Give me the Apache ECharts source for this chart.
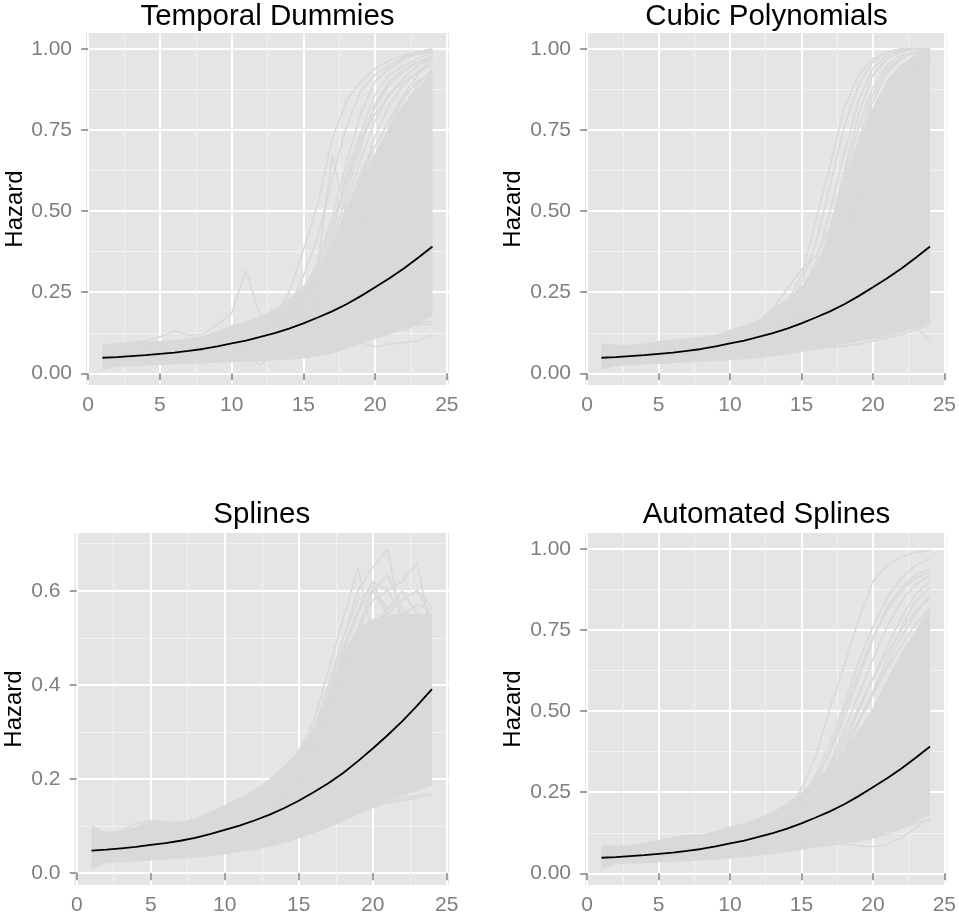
<head>
    <meta charset="utf-8">
    <title>Hazard</title>
    <script src="https://cdn.jsdelivr.net/npm/echarts@6/dist/echarts.min.js"></script>
</head>

<body style="margin:0">
    <div id="main" style="width: 959px; height: 922px;"></div>

    <script type="text/javascript">

        // time points and the true hazard (black line)
        const time = [1, 2, 3, 4, 5, 6, 7, 8, 9, 10, 11, 12, 13, 14, 15, 16, 17, 18, 19, 20, 21, 22, 23, 24]
        const truth = [0.048, 0.050, 0.053, 0.056, 0.060, 0.064, 0.069, 0.075, 0.083, 0.092, 0.101, 0.112, 0.124, 0.138, 0.154, 0.172, 0.191, 0.213, 0.238, 0.265, 0.293, 0.323, 0.356, 0.391]

        const xTicks = [0, 5, 10, 15, 20, 25]
        const xMinor = [2.5, 7.5, 12.5, 17.5, 22.5]
        const yTicks = [0, 0.25, 0.5, 0.75, 1]
        const yMinor = [0.125, 0.375, 0.625, 0.875]
        const ySplineTicks = [0, 0.2, 0.4, 0.6]
        const ySplineMinor = [0.1, 0.3, 0.5, 0.7]

        // dense part of the grey simulation lines (lower / upper edge)
        const dummiesLow = [0.010, 0.020, 0.022, 0.024, 0.025, 0.027, 0.029, 0.031, 0.032, 0.034, 0.036, 0.038, 0.040, 0.042, 0.046, 0.052, 0.06, 0.075, 0.09, 0.105, 0.12, 0.135, 0.155, 0.175]
        const dummiesHigh = [0.09, 0.093, 0.095, 0.098, 0.1, 0.103, 0.108, 0.115, 0.13, 0.148, 0.16, 0.175, 0.2, 0.23, 0.27, 0.32, 0.4, 0.5, 0.6, 0.68, 0.76, 0.83, 0.88, 0.93]
        const cubicLow = [0.010, 0.022, 0.025, 0.027, 0.029, 0.031, 0.033, 0.035, 0.037, 0.04, 0.043, 0.047, 0.052, 0.058, 0.066, 0.074, 0.082, 0.09, 0.098, 0.105, 0.115, 0.125, 0.14, 0.155]
        const cubicHigh = [0.093, 0.088, 0.088, 0.092, 0.1, 0.104, 0.108, 0.113, 0.12, 0.135, 0.148, 0.165, 0.2, 0.23, 0.27, 0.33, 0.44, 0.6, 0.72, 0.82, 0.9, 0.95, 0.985, 1.0]
        const splinesLow = [0.008, 0.022, 0.024, 0.025, 0.027, 0.029, 0.031, 0.033, 0.036, 0.04, 0.045, 0.05, 0.056, 0.064, 0.074, 0.085, 0.097, 0.11, 0.125, 0.14, 0.155, 0.165, 0.175, 0.185]
        const splinesHigh = [0.103, 0.085, 0.09, 0.1, 0.11, 0.108, 0.11, 0.117, 0.13, 0.145, 0.16, 0.178, 0.2, 0.227, 0.26, 0.31, 0.38, 0.47, 0.52, 0.54, 0.55, 0.55, 0.55, 0.55]
        const autoLow = [0.012, 0.028, 0.03, 0.031, 0.033, 0.035, 0.037, 0.039, 0.042, 0.046, 0.05, 0.055, 0.06, 0.066, 0.073, 0.08, 0.085, 0.09, 0.1, 0.11, 0.125, 0.14, 0.16, 0.18]
        const autoHigh = [0.087, 0.085, 0.088, 0.095, 0.103, 0.11, 0.118, 0.12, 0.13, 0.144, 0.155, 0.17, 0.19, 0.216, 0.25, 0.29, 0.33, 0.38, 0.44, 0.51, 0.6, 0.68, 0.75, 0.82]

        // single grey lines that stand out of the dense part
        const dummiesLines = [
            [0.085, 0.092, 0.095, 0.1, 0.112, 0.13, 0.118, 0.12, 0.15, 0.185, 0.317, 0.175, 0.165, 0.2, 0.26, 0.34, 0.46, 0.6, 0.72, 0.8, 0.86, 0.9, 0.93, 0.95],
            [0.06, 0.065, 0.07, 0.072, 0.078, 0.082, 0.088, 0.095, 0.1, 0.11, 0.12, 0.13, 0.15, 0.19, 0.25, 0.33, 0.669, 0.49, 0.6, 0.7, 0.78, 0.85, 0.9, 0.93],
            [0.04, 0.035, 0.036, 0.04, 0.042, 0.045, 0.056, 0.026, 0.05, 0.06, 0.055, 0.026, 0.056, 0.065, 0.077, 0.085, 0.1, 0.11, 0.095, 0.082, 0.09, 0.095, 0.1, 0.118],
            [0.07, 0.072, 0.075, 0.078, 0.082, 0.086, 0.09, 0.095, 0.1, 0.108, 0.118, 0.13, 0.17, 0.25, 0.38, 0.52, 0.72, 0.84, 0.9, 0.94, 0.965, 0.98, 0.99, 1.0],
            [0.065, 0.068, 0.07, 0.074, 0.078, 0.082, 0.087, 0.092, 0.098, 0.105, 0.113, 0.125, 0.15, 0.2, 0.3, 0.42, 0.6, 0.76, 0.87, 0.92, 0.95, 0.975, 0.99, 0.995],
            [0.055, 0.058, 0.062, 0.066, 0.07, 0.074, 0.079, 0.085, 0.092, 0.1, 0.11, 0.122, 0.14, 0.18, 0.25, 0.34, 0.48, 0.65, 0.8, 0.9, 0.94, 0.97, 0.985, 0.99],
            [0.05, 0.053, 0.056, 0.06, 0.064, 0.068, 0.073, 0.079, 0.086, 0.094, 0.103, 0.115, 0.13, 0.17, 0.22, 0.3, 0.4, 0.55, 0.7, 0.83, 0.9, 0.94, 0.96, 0.97],
            [0.05, 0.052, 0.055, 0.058, 0.062, 0.066, 0.071, 0.077, 0.084, 0.092, 0.1, 0.11, 0.125, 0.15, 0.19, 0.25, 0.33, 0.45, 0.6, 0.73, 0.83, 0.89, 0.93, 0.96],
            [0.045, 0.048, 0.051, 0.055, 0.059, 0.063, 0.068, 0.074, 0.081, 0.089, 0.098, 0.108, 0.12, 0.14, 0.17, 0.22, 0.3, 0.4, 0.5, 0.64, 0.76, 0.85, 0.9, 0.93],
            [0.06, 0.066, 0.064, 0.07, 0.075, 0.078, 0.085, 0.09, 0.096, 0.1, 0.11, 0.12, 0.14, 0.17, 0.21, 0.27, 0.36, 0.5, 0.62, 0.7, 0.78, 0.86, 0.92, 0.98],
            [0.03, 0.032, 0.034, 0.036, 0.038, 0.041, 0.044, 0.047, 0.05, 0.054, 0.058, 0.062, 0.067, 0.072, 0.078, 0.09, 0.1, 0.11, 0.13, 0.14, 0.15, 0.13, 0.155, 0.16],
            [0.035, 0.037, 0.04, 0.042, 0.045, 0.048, 0.051, 0.055, 0.059, 0.063, 0.068, 0.073, 0.079, 0.086, 0.094, 0.1, 0.105, 0.11, 0.115, 0.12, 0.13, 0.14, 0.15, 0.15],
            [0.05, 0.052, 0.055, 0.058, 0.061, 0.065, 0.07, 0.075, 0.081, 0.088, 0.096, 0.105, 0.115, 0.13, 0.15, 0.18, 0.24, 0.33, 0.45, 0.55, 0.68, 0.78, 0.86, 0.92],
            [0.06, 0.063, 0.066, 0.07, 0.074, 0.078, 0.083, 0.089, 0.096, 0.104, 0.113, 0.124, 0.14, 0.17, 0.23, 0.32, 0.44, 0.58, 0.72, 0.82, 0.89, 0.93, 0.96, 0.98],
            [0.055, 0.057, 0.06, 0.063, 0.067, 0.071, 0.076, 0.082, 0.089, 0.097, 0.106, 0.117, 0.13, 0.155, 0.2, 0.28, 0.38, 0.52, 0.66, 0.78, 0.86, 0.91, 0.95, 0.97],
            [0.05, 0.052, 0.054, 0.057, 0.06, 0.064, 0.068, 0.073, 0.079, 0.086, 0.094, 0.103, 0.115, 0.135, 0.165, 0.21, 0.27, 0.36, 0.47, 0.6, 0.72, 0.82, 0.89, 0.94],
            [0.07, 0.068, 0.074, 0.08, 0.076, 0.085, 0.09, 0.1, 0.098, 0.11, 0.12, 0.135, 0.15, 0.18, 0.22, 0.3, 0.42, 0.62, 0.74, 0.86, 0.92, 0.95, 0.97, 0.99],
            [0.04, 0.043, 0.046, 0.05, 0.054, 0.058, 0.063, 0.068, 0.074, 0.08, 0.087, 0.095, 0.104, 0.115, 0.13, 0.16, 0.2, 0.26, 0.34, 0.44, 0.55, 0.66, 0.76, 0.85]
        ]
        const cubicLines = [
            [0.06, 0.062, 0.065, 0.068, 0.072, 0.076, 0.081, 0.087, 0.094, 0.102, 0.112, 0.13, 0.17, 0.22, 0.3, 0.47, 0.64, 0.82, 0.92, 0.97, 0.99, 1.0, 1.0, 1.0],
            [0.055, 0.058, 0.061, 0.065, 0.069, 0.074, 0.079, 0.085, 0.092, 0.1, 0.11, 0.125, 0.15, 0.2, 0.28, 0.4, 0.58, 0.76, 0.89, 0.96, 0.99, 1.0, 1.0, 1.0],
            [0.05, 0.053, 0.056, 0.06, 0.064, 0.069, 0.074, 0.08, 0.087, 0.095, 0.104, 0.117, 0.14, 0.18, 0.25, 0.34, 0.5, 0.68, 0.84, 0.94, 0.98, 0.995, 1.0, 1.0],
            [0.07, 0.072, 0.075, 0.079, 0.083, 0.088, 0.094, 0.101, 0.11, 0.12, 0.135, 0.16, 0.2, 0.26, 0.32, 0.36, 0.45, 0.6, 0.76, 0.88, 0.95, 0.98, 0.99, 1.0],
            [0.045, 0.048, 0.051, 0.055, 0.059, 0.063, 0.068, 0.074, 0.081, 0.089, 0.098, 0.11, 0.13, 0.16, 0.22, 0.3, 0.4, 0.55, 0.72, 0.86, 0.94, 0.97, 0.99, 1.0],
            [0.045, 0.047, 0.05, 0.053, 0.057, 0.061, 0.066, 0.072, 0.079, 0.087, 0.096, 0.107, 0.12, 0.15, 0.2, 0.27, 0.36, 0.48, 0.64, 0.8, 0.9, 0.95, 0.98, 0.99],
            [0.04, 0.043, 0.046, 0.05, 0.054, 0.058, 0.063, 0.069, 0.076, 0.084, 0.093, 0.104, 0.117, 0.14, 0.18, 0.24, 0.32, 0.42, 0.56, 0.7, 0.82, 0.9, 0.95, 0.97],
            [0.03, 0.032, 0.034, 0.036, 0.039, 0.042, 0.045, 0.049, 0.053, 0.058, 0.063, 0.068, 0.074, 0.08, 0.086, 0.092, 0.096, 0.1, 0.115, 0.13, 0.145, 0.155, 0.14, 0.105],
            [0.028, 0.03, 0.032, 0.034, 0.036, 0.039, 0.042, 0.045, 0.049, 0.053, 0.057, 0.061, 0.065, 0.069, 0.073, 0.077, 0.08, 0.085, 0.09, 0.1, 0.11, 0.12, 0.135, 0.15],
            [0.05, 0.052, 0.055, 0.058, 0.062, 0.066, 0.071, 0.077, 0.084, 0.092, 0.1, 0.11, 0.125, 0.145, 0.17, 0.21, 0.27, 0.36, 0.48, 0.62, 0.76, 0.87, 0.94, 0.98],
            [0.055, 0.058, 0.061, 0.064, 0.068, 0.072, 0.077, 0.083, 0.09, 0.098, 0.107, 0.118, 0.135, 0.165, 0.22, 0.31, 0.44, 0.62, 0.8, 0.92, 0.97, 0.99, 1.0, 1.0],
            [0.05, 0.052, 0.055, 0.058, 0.062, 0.066, 0.071, 0.077, 0.084, 0.092, 0.101, 0.112, 0.125, 0.15, 0.19, 0.26, 0.36, 0.5, 0.68, 0.84, 0.93, 0.97, 0.99, 1.0],
            [0.045, 0.047, 0.05, 0.053, 0.056, 0.06, 0.064, 0.069, 0.075, 0.082, 0.09, 0.1, 0.112, 0.13, 0.16, 0.21, 0.29, 0.4, 0.54, 0.7, 0.83, 0.92, 0.97, 0.99],
            [0.04, 0.042, 0.045, 0.048, 0.051, 0.055, 0.059, 0.064, 0.07, 0.077, 0.085, 0.094, 0.105, 0.12, 0.145, 0.18, 0.24, 0.33, 0.45, 0.6, 0.74, 0.85, 0.93, 0.97]
        ]
        const splinesLines = [
            [0.06, 0.062, 0.066, 0.07, 0.074, 0.078, 0.082, 0.087, 0.093, 0.1, 0.11, 0.125, 0.15, 0.19, 0.25, 0.3, 0.4, 0.5, 0.6, 0.65, 0.688, 0.52, 0.5, 0.48],
            [0.055, 0.058, 0.062, 0.066, 0.07, 0.074, 0.078, 0.083, 0.09, 0.098, 0.108, 0.122, 0.145, 0.19, 0.26, 0.32, 0.43, 0.54, 0.648, 0.5, 0.48, 0.47, 0.47, 0.46],
            [0.05, 0.053, 0.057, 0.06, 0.064, 0.068, 0.072, 0.077, 0.083, 0.09, 0.1, 0.113, 0.13, 0.17, 0.22, 0.29, 0.36, 0.45, 0.52, 0.58, 0.6, 0.62, 0.66, 0.5],
            [0.05, 0.052, 0.055, 0.058, 0.062, 0.066, 0.07, 0.075, 0.081, 0.088, 0.097, 0.11, 0.13, 0.17, 0.22, 0.28, 0.37, 0.47, 0.55, 0.62, 0.54, 0.52, 0.52, 0.52],
            [0.045, 0.048, 0.051, 0.055, 0.059, 0.063, 0.068, 0.073, 0.079, 0.086, 0.095, 0.107, 0.125, 0.16, 0.2, 0.27, 0.34, 0.44, 0.5, 0.6, 0.634, 0.56, 0.54, 0.55],
            [0.045, 0.047, 0.05, 0.053, 0.057, 0.061, 0.066, 0.071, 0.077, 0.084, 0.092, 0.103, 0.118, 0.15, 0.19, 0.24, 0.3, 0.4, 0.47, 0.53, 0.56, 0.58, 0.6, 0.565],
            [0.1, 0.085, 0.09, 0.105, 0.112, 0.11, 0.105, 0.11, 0.12, 0.13, 0.14, 0.15, 0.16, 0.175, 0.19, 0.2, 0.21, 0.225, 0.24, 0.26, 0.28, 0.3, 0.32, 0.34],
            [0.03, 0.032, 0.034, 0.036, 0.038, 0.041, 0.044, 0.047, 0.05, 0.054, 0.058, 0.063, 0.068, 0.075, 0.083, 0.092, 0.1, 0.12, 0.13, 0.14, 0.15, 0.155, 0.16, 0.165],
            [0.035, 0.037, 0.039, 0.042, 0.045, 0.048, 0.051, 0.055, 0.06, 0.065, 0.07, 0.076, 0.083, 0.09, 0.098, 0.106, 0.115, 0.13, 0.138, 0.145, 0.152, 0.16, 0.165, 0.17],
            [0.05, 0.052, 0.055, 0.058, 0.062, 0.066, 0.07, 0.075, 0.081, 0.088, 0.096, 0.107, 0.122, 0.15, 0.2, 0.27, 0.38, 0.5, 0.58, 0.6, 0.55, 0.58, 0.6, 0.54],
            [0.045, 0.048, 0.051, 0.054, 0.058, 0.062, 0.066, 0.071, 0.077, 0.084, 0.092, 0.102, 0.115, 0.14, 0.18, 0.25, 0.33, 0.43, 0.52, 0.61, 0.56, 0.6, 0.55, 0.53],
            [0.05, 0.053, 0.056, 0.059, 0.063, 0.067, 0.071, 0.076, 0.082, 0.089, 0.097, 0.108, 0.123, 0.155, 0.21, 0.28, 0.37, 0.48, 0.56, 0.62, 0.6, 0.55, 0.57, 0.56]
        ]
        const autoLines = [
            [0.06, 0.062, 0.065, 0.068, 0.072, 0.076, 0.081, 0.087, 0.094, 0.102, 0.112, 0.125, 0.15, 0.19, 0.26, 0.36, 0.51, 0.64, 0.78, 0.9, 0.95, 0.975, 0.99, 0.995],
            [0.055, 0.058, 0.061, 0.065, 0.069, 0.074, 0.079, 0.085, 0.092, 0.1, 0.11, 0.122, 0.14, 0.17, 0.22, 0.3, 0.4, 0.52, 0.65, 0.76, 0.85, 0.91, 0.95, 0.97],
            [0.05, 0.053, 0.056, 0.06, 0.064, 0.069, 0.074, 0.08, 0.087, 0.095, 0.104, 0.115, 0.13, 0.16, 0.21, 0.29, 0.37, 0.48, 0.6, 0.72, 0.82, 0.88, 0.92, 0.94],
            [0.05, 0.052, 0.055, 0.058, 0.062, 0.066, 0.071, 0.077, 0.084, 0.092, 0.1, 0.11, 0.125, 0.15, 0.19, 0.25, 0.34, 0.44, 0.55, 0.66, 0.76, 0.84, 0.89, 0.92],
            [0.045, 0.048, 0.051, 0.055, 0.059, 0.063, 0.068, 0.074, 0.081, 0.089, 0.098, 0.108, 0.12, 0.14, 0.18, 0.24, 0.33, 0.42, 0.51, 0.6, 0.7, 0.79, 0.86, 0.9],
            [0.045, 0.047, 0.05, 0.053, 0.057, 0.061, 0.066, 0.072, 0.079, 0.087, 0.096, 0.106, 0.118, 0.135, 0.16, 0.21, 0.28, 0.38, 0.46, 0.55, 0.64, 0.73, 0.8, 0.86],
            [0.03, 0.032, 0.034, 0.036, 0.038, 0.041, 0.044, 0.047, 0.05, 0.054, 0.058, 0.063, 0.068, 0.074, 0.08, 0.09, 0.1, 0.09, 0.085, 0.082, 0.09, 0.11, 0.14, 0.17],
            [0.035, 0.037, 0.039, 0.041, 0.044, 0.047, 0.05, 0.054, 0.058, 0.063, 0.068, 0.074, 0.08, 0.087, 0.094, 0.1, 0.1, 0.1, 0.1, 0.11, 0.12, 0.14, 0.155, 0.165],
            [0.07, 0.075, 0.08, 0.09, 0.1, 0.11, 0.115, 0.118, 0.12, 0.13, 0.14, 0.155, 0.17, 0.2, 0.24, 0.28, 0.33, 0.4, 0.47, 0.55, 0.63, 0.7, 0.77, 0.82],
            [0.05, 0.052, 0.055, 0.058, 0.062, 0.066, 0.071, 0.077, 0.084, 0.092, 0.1, 0.11, 0.125, 0.15, 0.2, 0.28, 0.38, 0.5, 0.62, 0.73, 0.81, 0.87, 0.91, 0.93],
            [0.045, 0.047, 0.05, 0.053, 0.057, 0.061, 0.066, 0.072, 0.079, 0.087, 0.096, 0.106, 0.118, 0.14, 0.17, 0.22, 0.3, 0.4, 0.5, 0.6, 0.68, 0.75, 0.81, 0.85],
            [0.05, 0.052, 0.055, 0.058, 0.062, 0.066, 0.071, 0.077, 0.084, 0.092, 0.1, 0.11, 0.125, 0.145, 0.18, 0.23, 0.3, 0.38, 0.47, 0.56, 0.66, 0.76, 0.84, 0.88]
        ]

        const font = "'Liberation Sans', Arial, Helvetica, sans-serif"
        const grey = '#D9D9D9'

        const panels = [
            { name: 'Temporal Dummies', low: dummiesLow, high: dummiesHigh, lines: dummiesLines,
              box: [86, 33, 363, 352], titleTop: 2, yMin: -0.036, yMax: 1.049, ticks: yTicks, minor: yMinor, digits: 2, nameGap: 59 },
            { name: 'Cubic Polynomials', low: cubicLow, high: cubicHigh, lines: cubicLines,
              box: [585, 33, 363, 352], titleTop: 2, yMin: -0.036, yMax: 1.049, ticks: yTicks, minor: yMinor, digits: 2, nameGap: 60 },
            { name: 'Splines', low: splinesLow, high: splinesHigh, lines: splinesLines,
              box: [74.5, 533, 374.5, 352], titleTop: 500, yMin: -0.025, yMax: 0.7226, ticks: ySplineTicks, minor: ySplineMinor, digits: 1, nameGap: 48 },
            { name: 'Automated Splines', low: autoLow, high: autoHigh, lines: autoLines,
              box: [585, 533, 363, 352], titleTop: 500, yMin: -0.036, yMax: 1.049, ticks: yTicks, minor: yMinor, digits: 2, nameGap: 60 }
        ]

        const grid = [], xAxis = [], yAxis = [], series = [], title = []

        panels.forEach((p, i) => {
            grid.push({ left: p.box[0], top: p.box[1], width: p.box[2], height: p.box[3],
                show: true, backgroundColor: '#E5E5E5', borderWidth: 0 })

            title.push({ text: p.name, left: p.box[0] + p.box[2] / 2, top: p.titleTop, textAlign: 'center', padding: 0,
                textStyle: { fontSize: 29.5, fontWeight: 'normal', color: '#000', fontFamily: font } })

            // minor grid lines (axis 2i), major axis with ticks and labels (axis 2i+1)
            xAxis.push({ gridIndex: i, type: 'value', min: -0.15, max: 25.15,
                axisLine: { show: false }, axisLabel: { show: false },
                axisTick: { show: false, customValues: xMinor },
                splitLine: { show: true, lineStyle: { color: '#F2F2F2', width: 1 } } })
            xAxis.push({ gridIndex: i, type: 'value', min: -0.15, max: 25.15, position: 'bottom',
                axisLine: { show: false },
                axisTick: { show: true, length: 7, customValues: xTicks, lineStyle: { color: '#7F7F7F', width: 1.5 } },
                axisLabel: { customValues: xTicks, color: '#7F7F7F', fontSize: 21, margin: 10, fontFamily: font },
                splitLine: { show: true, lineStyle: { color: '#FFFFFF', width: 2 } } })

            yAxis.push({ gridIndex: i, type: 'value', min: p.yMin, max: p.yMax,
                axisLine: { show: false }, axisLabel: { show: false },
                axisTick: { show: false, customValues: p.minor },
                splitLine: { show: true, lineStyle: { color: '#F2F2F2', width: 1 } } })
            yAxis.push({ gridIndex: i, type: 'value', min: p.yMin, max: p.yMax, position: 'left',
                name: 'Hazard', nameLocation: 'middle', nameRotate: 90, nameGap: p.nameGap,
                nameTextStyle: { color: '#000', fontSize: 24, fontFamily: font },
                axisLine: { show: false },
                axisTick: { show: true, length: 7, customValues: p.ticks, lineStyle: { color: '#7F7F7F', width: 1.5 } },
                axisLabel: { customValues: p.ticks, color: '#7F7F7F', fontSize: 21, margin: 14, fontFamily: font,
                    formatter: v => v.toFixed(p.digits) },
                splitLine: { show: true, lineStyle: { color: '#FFFFFF', width: 2 } } })

            const ax = 2 * i + 1

            // dense grey area between the lower and upper edge
            series.push({
                type: 'custom', xAxisIndex: ax, yAxisIndex: ax, silent: true, clip: true, z: 2,
                data: [[time[0], p.low[0]]],
                renderItem: (params, api) => {
                    const pts = []
                    time.forEach((t, k) => pts.push(api.coord([t, p.high[k]])))
                    for (let k = time.length - 1; k >= 0; k--) pts.push(api.coord([time[k], p.low[k]]))
                    return { type: 'polygon', shape: { points: pts }, style: { fill: grey } }
                }
            })

            p.lines.forEach(vals => {
                series.push({
                    type: 'line', xAxisIndex: ax, yAxisIndex: ax, silent: true, z: 2,
                    symbol: 'none', data: time.map((t, k) => [t, vals[k]]),
                    lineStyle: { color: grey, width: 1.6 }
                })
            })

            series.push({
                type: 'line', xAxisIndex: ax, yAxisIndex: ax, silent: true, z: 3,
                symbol: 'none', data: time.map((t, k) => [t, truth[k]]),
                lineStyle: { color: '#000000', width: 1.8 }
            })
        })

        var myChart = echarts.init(document.getElementById('main'), null, { renderer: 'canvas' });

        option = {
            animation: false,
            backgroundColor: '#FFFFFF',
            title,
            grid,
            xAxis,
            yAxis,
            series
        };

        myChart.setOption(option);
    </script>
</body>
